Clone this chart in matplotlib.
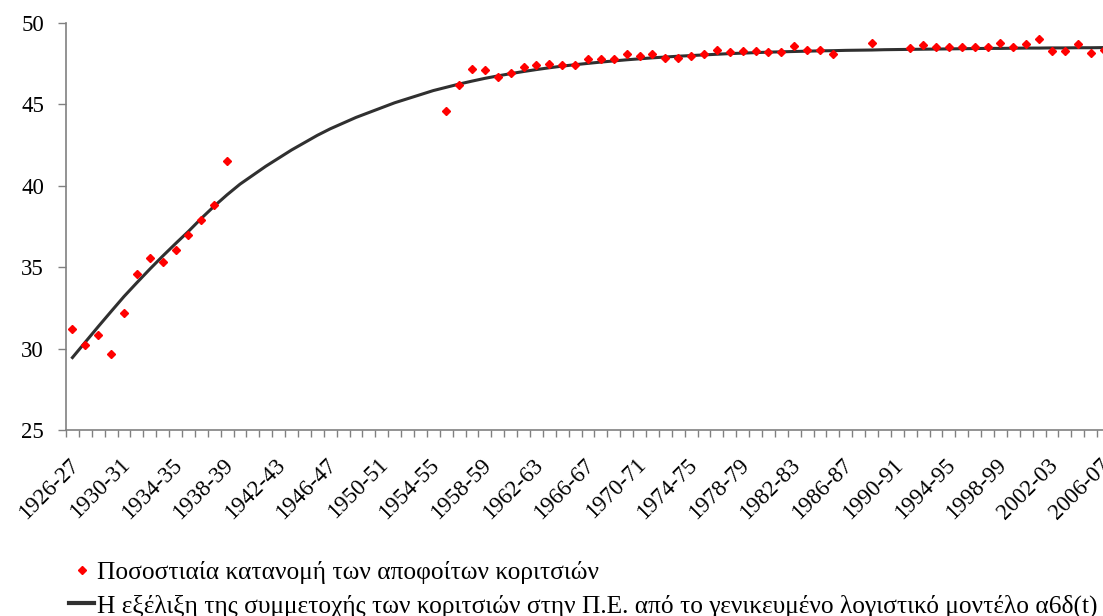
import numpy as np
import matplotlib
matplotlib.use("Agg")
import matplotlib.pyplot as plt
import matplotlib.transforms as mtransforms

# School years 1926-27 ... 2006-07
years = ["%d-%02d" % (y, (y + 1) % 100) for y in range(1926, 2007)]

# Observed share of girls among graduates (%), None = no data
girls_share = [
    31.2, 30.2, 30.85, 29.65, 32.2, 34.6, 35.55, 35.35, 36.05, 37.0,
    37.9, 38.8, 41.55, None, None, None, None, None, None, None,
    None, None, None, None, None, None, None, None, None, 44.6,
    46.2, 47.2, 47.1, 46.7, 46.95, 47.3, 47.4, 47.5, 47.42, 47.42,
    47.8, 47.8, 47.8, 48.1, 48.0, 48.07, 47.85, 47.85, 47.95, 48.07,
    48.36, 48.22, 48.26, 48.3, 48.22, 48.22, 48.6, 48.36, 48.34, 48.07,
    None, None, 48.77, None, None, 48.44, 48.63, 48.55, 48.55, 48.55,
    48.51, 48.51, 48.77, 48.51, 48.71, 49.0, 48.3, 48.26, 48.71, 48.16,
    48.34,
]

# Fitted generalised logistic model
model = [
    29.45, 30.4, 31.35, 32.28, 33.2, 34.05, 34.88, 35.68, 36.45, 37.2,
    38.0, 38.75, 39.45, 40.1, 40.65, 41.2, 41.7, 42.2, 42.65, 43.1,
    43.5, 43.85, 44.2, 44.5, 44.8, 45.1, 45.35, 45.6, 45.85, 46.05,
    46.25, 46.43, 46.6, 46.75, 46.89, 47.02, 47.14, 47.25, 47.35, 47.44,
    47.52, 47.6, 47.67, 47.74, 47.8, 47.86, 47.91, 47.96, 48.0, 48.04,
    48.08, 48.12, 48.15, 48.18, 48.21, 48.23, 48.25, 48.27, 48.29, 48.3,
    48.32, 48.33, 48.34, 48.36, 48.37, 48.38, 48.39, 48.4, 48.41, 48.42,
    48.43, 48.44, 48.44, 48.45, 48.46, 48.46, 48.47, 48.47, 48.48, 48.48,
    48.49,
]

plt.rcParams['font.family'] = ['Liberation Serif', 'DejaVu Serif']

fig = plt.figure(figsize=(11.03, 6.16), dpi=100)
ax = fig.add_axes([66 / 1103, 186 / 616, 1044 / 1103, 407 / 616])

x = np.arange(len(years))
pts = np.array([np.nan if v is None else v for v in girls_share])

ax.plot(x, model, color='#303030', lw=2.2, zorder=2,
        label='Η εξέλιξη της συμμετοχής των κοριτσιών στην Π.Ε. από το γενικευμένο λογιστικό μοντέλο α6δ(t)')
ax.plot(x, pts, linestyle='none', marker='D', color='#ff0000', markersize=3.8,
        zorder=3, label='Ποσοστιαία κατανομή των αποφοίτων κοριτσιών')

ax.set_xlim(-0.5, len(years) - 0.5)
ax.set_ylim(25, 50)
ax.set_yticks([25, 30, 35, 40, 45, 50])

ax.set_xticks(x[::4])
ax.set_xticklabels(years[::4], rotation=45, ha='right', va='center',
                   rotation_mode='anchor', fontsize=16.5)
ax.set_xticks(np.arange(-0.5, len(years)), minor=True)
ax.tick_params(axis='x', which='major', length=0, pad=23)
ax.tick_params(axis='x', which='minor', length=5, color='#808080', width=1)
ax.tick_params(axis='y', length=5.8, color='#808080', width=1, labelsize=16.5, pad=10)

# nudge the slanted labels a little to the right
shift = mtransforms.ScaledTranslation(3 / 100, 0, fig.dpi_scale_trans)
for lab in ax.get_xticklabels():
    lab.set_transform(lab.get_transform() + shift)

for s in ['top', 'right']:
    ax.spines[s].set_visible(False)
for s in ['left', 'bottom']:
    ax.spines[s].set_color('#808080')
    ax.spines[s].set_linewidth(1.2)

handles, labels = ax.get_legend_handles_labels()
leg = fig.legend(handles[::-1], labels[::-1], loc='upper left',
                 bbox_to_anchor=(69 / 1103, 1 - 561 / 616), frameon=False,
                 fontsize=18.3, handlelength=1.0, handletextpad=0.1,
                 labelspacing=0.4, borderaxespad=0, borderpad=0)
leg.legend_handles[1].set_linewidth(3)

fig.savefig('out.png', dpi=100)
